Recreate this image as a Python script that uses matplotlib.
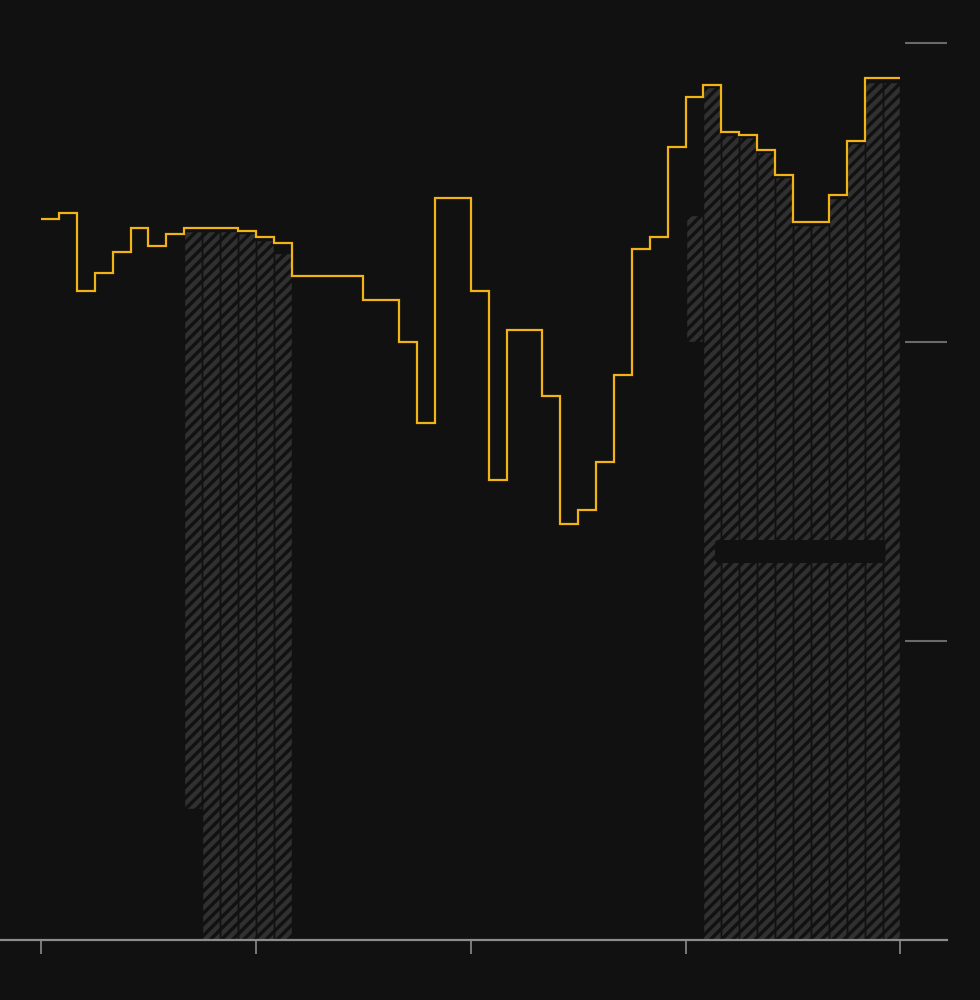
import numpy as np
import matplotlib.pyplot as plt
from matplotlib.patches import FancyBboxPatch

BG = "#111111"
plt.rcParams["hatch.linewidth"] = 3.2

# stepped series, one value per period (48 periods)
line_vals = [2.411, 2.431, 2.171, 2.231, 2.301, 2.381, 2.321, 2.361,
             2.381, 2.381, 2.381, 2.371, 2.351, 2.331, 2.221, 2.221,
             2.221, 2.221, 2.140, 2.140, 2.000, 1.729, 2.482, 2.482,
             2.171, 1.538, 2.040, 2.040, 1.819, 1.391, 1.438, 1.599,
             1.890, 2.311, 2.351, 2.652, 2.819, 2.860, 2.702, 2.692,
             2.642, 2.559, 2.401, 2.401, 2.492, 2.672, 2.883, 2.883]

# hatched range bars
bar_x = [8, 9, 10, 11, 12, 13,
         36, 37, 38, 39, 40, 41, 42, 43, 44, 45, 46, 47]
bar_low = [0.438, 0, 0, 0, 0, 0,
           2.000, 0, 0, 0, 0, 0, 0, 0, 0, 0, 0, 0]
bar_high = [2.371, 2.371, 2.371, 2.365, 2.341, 2.298,
            2.425, 2.853, 2.692, 2.686, 2.635, 2.552, 2.391, 2.391, 2.482, 2.666, 2.870, 2.870]

x_ticks = [0, 12, 24, 36, 48]
y_ticks = [1, 2, 3]

fig = plt.figure(figsize=(9.8, 10), dpi=100, facecolor=BG)
ax = fig.add_axes([0, 0.06, 0.9663, 0.94])
ax.set_facecolor(BG)

heights = np.array(bar_high) - np.array(bar_low)
ax.bar(bar_x, heights, bottom=bar_low, width=1, align="edge",
       facecolor=BG, edgecolor="#303030", linewidth=0, hatch="///", zorder=1)
ax.bar(bar_x, heights, bottom=bar_low, width=1, align="edge",
       fill=False, edgecolor=BG, linewidth=1.0, zorder=2)

edges = np.arange(len(line_vals) + 1)
ax.stairs(line_vals, edges, baseline=None, color="#f2b316", linewidth=1.6, zorder=3)

# empty label box over the right bars
ax.add_patch(FancyBboxPatch((0.755, 0.401), 0.18, 0.0245,
                            boxstyle="round,pad=0,rounding_size=0.004",
                            transform=ax.transAxes, facecolor=BG,
                            edgecolor="none", zorder=2.5))

ax.set_xlim(-2.29, 50.6)
ax.set_ylim(0, 3.144)
ax.set_xticks(x_ticks)
ax.set_yticks(y_ticks)
ax.set_xticklabels([])
ax.set_yticklabels([])
ax.yaxis.tick_right()

for s in ["top", "left", "right"]:
    ax.spines[s].set_visible(False)
ax.spines["bottom"].set_color("#8c8c8c")
ax.spines["bottom"].set_linewidth(1.6)

ax.tick_params(axis="x", direction="out", length=10, width=1.2, color="#8c8c8c")
ax.tick_params(axis="y", direction="in", length=30.2, width=1.5, color="#6a6a6a")

fig.savefig("out.png", dpi=100, facecolor=BG)
